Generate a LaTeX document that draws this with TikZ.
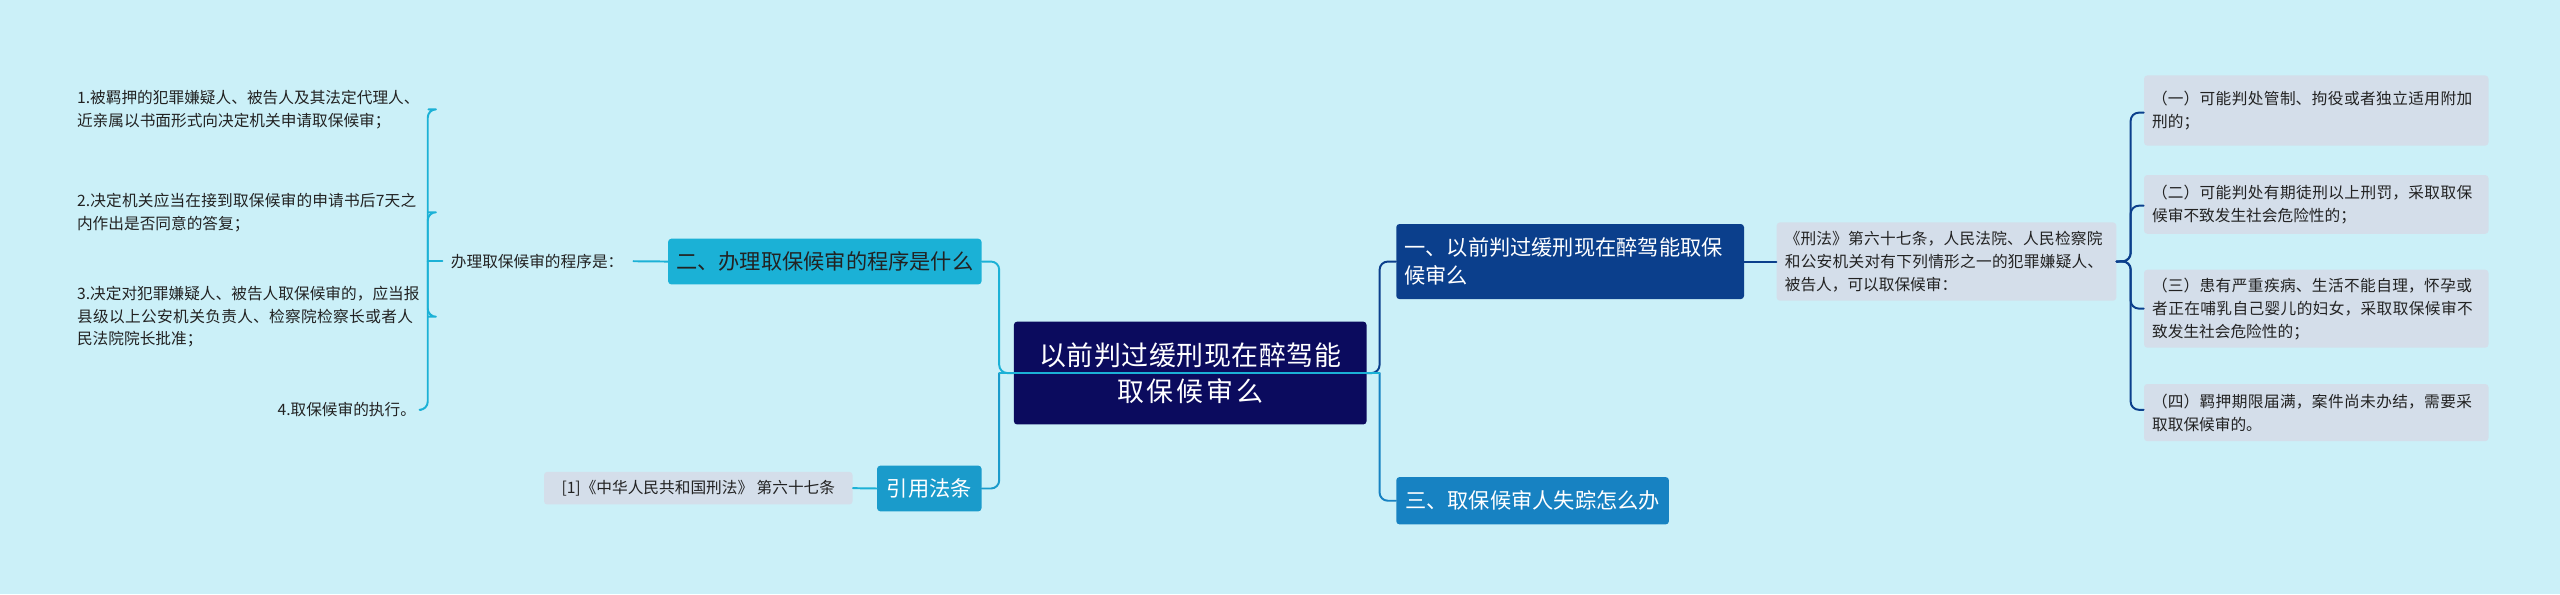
\documentclass[tikz,border=0pt]{standalone}
\usepackage{fontspec}
\setmainfont{Noto Sans CJK SC}
\XeTeXlinebreaklocale "zh"
\XeTeXlinebreakskip=0pt plus 1pt
\usetikzlibrary{positioning}
\definecolor{bgcyan}{HTML}{CBF0F8}
\definecolor{rootnavy}{HTML}{0B0B5E}
\definecolor{onenavy}{HTML}{0B3F8C}
\definecolor{threeblue}{HTML}{1782C2}
\definecolor{twocyan}{HTML}{1BB1D6}
\definecolor{citeblue}{HTML}{1A9BCB}
\definecolor{leafgrey}{HTML}{D4DEEA}
\definecolor{textdark}{HTML}{222222}
\tikzset{
  topicbox/.style={rounded corners=2pt,inner sep=5pt,anchor=north west,align=left,font=\fontsize{13}{17}\selectfont},
  leafbox/.style={fill=leafgrey,rounded corners=2pt,inner sep=5pt,anchor=north west,align=left,text=textdark,font=\fontsize{9.6}{14}\selectfont},
  leaftext/.style={inner sep=0pt,align=left,text=textdark,font=\fontsize{9.6}{14}\selectfont},
  linkcyan/.style={draw=twocyan,line width=1.2pt,rounded corners=5pt},
  linknavy/.style={draw=onenavy,line width=1.2pt,rounded corners=5pt},
}
\begin{document}
\begin{tikzpicture}[line cap=round,line join=round,x=1pt,y=-1pt]
\useasboundingbox[fill=bgcyan] (0,0) rectangle (1568,364);
% root
\node[fill=rootnavy,rounded corners=2pt,text=white,align=center,minimum width=216pt,minimum height=63pt,text width=206pt,font=\fontsize{16.5}{22}\selectfont] (root) at (729,228.5) {以前判过缓刑现在醉驾能\\取保候审么};
% right branch
\node[topicbox,fill=onenavy,text=white,minimum width=213pt,minimum height=46pt,text width=203pt] (one) at (855,137) {一、以前判过缓刑现在醉驾能取保\\候审么};
\node[topicbox,fill=threeblue,text=white,minimum width=167pt,minimum height=29pt] (three) at (855,292) {三、取保候审人失踪怎么办};
\node[leafbox,minimum width=208pt,minimum height=48pt,text width=198pt] (law) at (1088,136) {《刑法》第六十七条，人民法院、人民检察院和公安机关对有下列情形之一的犯罪嫌疑人、被告人，可以取保候审：};
\node[leafbox,minimum width=211pt,minimum height=43pt,text width=201pt] (caseA) at (1313,46) {（一）可能判处管制、拘役或者独立适用附加刑的；};
\node[leafbox,minimum width=211pt,minimum height=36pt,text width=201pt] (caseB) at (1313,107) {（二）可能判处有期徒刑以上刑罚，采取取保候审不致发生社会危险性的；};
\node[leafbox,minimum width=211pt,minimum height=47pt,text width=201pt] (caseC) at (1313,165) {（三）患有严重疾病、生活不能自理，怀孕或者正在哺乳自己婴儿的妇女，采取取保候审不致发生社会危险性的；};
\node[leafbox,minimum width=211pt,minimum height=35pt,text width=201pt] (caseD) at (1313,235) {（四）羁押期限届满，案件尚未办结，需要采取取保候审的。};
% left branch
\node[topicbox,fill=twocyan,text=textdark,minimum width=192pt,minimum height=28pt] (two) at (409,146) {二、办理取保候审的程序是什么};
\node[topicbox,fill=citeblue,text=white,minimum width=64pt,minimum height=28pt] (cite) at (537,285) {引用法条};
\node[leaftext,anchor=east] (proc) at (382,160) {办理取保候审的程序是：};
\node[leaftext,anchor=west,text width=210pt] (stepA) at (47,67) {1.被羁押的犯罪嫌疑人、被告人及其法定代理人、近亲属以书面形式向决定机关申请取保候审；};
\node[leaftext,anchor=west,text width=210pt] (stepB) at (47,130) {2.决定机关应当在接到取保候审的申请书后7天之内作出是否同意的答复；};
\node[leaftext,anchor=west,text width=210pt] (stepC) at (47,194) {3.决定对犯罪嫌疑人、被告人取保候审的，应当报县级以上公安机关负责人、检察院检察长或者人民法院院长批准；};
\node[leaftext,anchor=east] (stepD) at (255,251) {4.取保候审的执行。};
\node[leafbox,minimum width=189pt,minimum height=20pt,anchor=west] (ref) at (333,299) {[1]《中华人民共和国刑法》 第六十七条};
% connectors
\coordinate (rj) at (845,228.5);
\coordinate (lj) at (612,228.5);
\draw[linknavy] (root.east) -- (rj) |- (one.west);
\draw[linknavy,draw=threeblue] (rj) |- (three.west);
\draw[linkcyan] (root.west) -- (lj) |- (two.east);
\draw[linkcyan,draw=citeblue] (lj) |- (cite.east);
\draw[draw=twocyan,line width=0.8pt] (lj) -- (rj);
\draw[linknavy] (one.east) -- (law.west);
\coordinate (bj) at (1305,160);
\foreach \leaf/\yy in {caseA/69,caseB/126,caseC/189,caseD/251}
  \draw[linknavy] (law.east) -- (bj) |- (1313,\yy);
\draw[linkcyan] (two.west) -- ([xshift=6pt]proc.east);
\draw[linkcyan] (cite.west) -- (ref.east);
\coordinate (pj) at (262,160);
\draw[linkcyan] ([xshift=-5pt]proc.west) -- (pj);
\draw[linkcyan] (pj) |- ([xshift=5pt]stepA.east);
\draw[linkcyan] (pj) |- ([xshift=5pt]stepB.east);
\draw[linkcyan] (pj) |- ([xshift=5pt]stepC.east);
\draw[linkcyan] (pj) |- ([xshift=3pt]stepD.east);
\end{tikzpicture}
\end{document}
